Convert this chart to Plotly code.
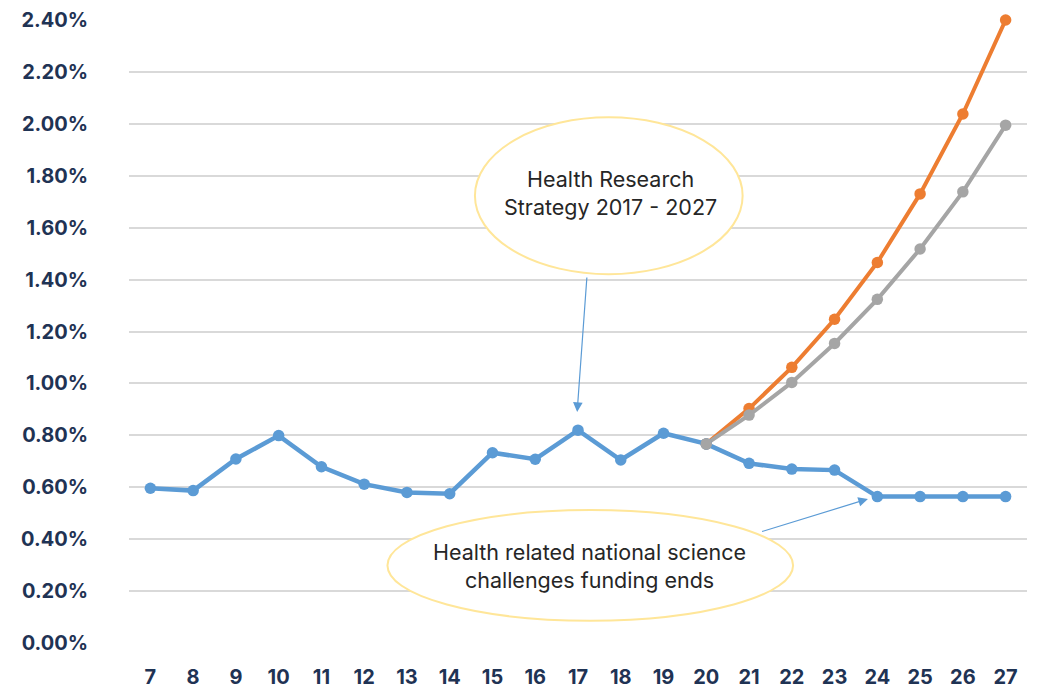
import plotly.graph_objects as go

years = list(range(7, 28))
actual = [0.596, 0.587, 0.709, 0.799, 0.679, 0.612, 0.580, 0.575, 0.733, 0.708,
          0.820, 0.705, 0.808, 0.767, 0.692, 0.670, 0.666, 0.564, 0.564, 0.564, 0.564]
proj_years = list(range(20, 28))
proj_high = [0.767, 0.903, 1.062, 1.247, 1.466, 1.730, 2.038, 2.400]
proj_mid = [0.767, 0.878, 1.004, 1.154, 1.324, 1.518, 1.738, 1.995]
y_ticks = [0.0, 0.2, 0.4, 0.6, 0.8, 1.0, 1.2, 1.4, 1.6, 1.8, 2.0, 2.2, 2.4]
y_labels = [f"{v:.2f}%" for v in y_ticks]

BLUE = "#5B9BD5"
ORANGE = "#ED7D31"
GRAY = "#A5A5A5"
NAVY = "#1F3354"
FONT = "Inter"

fig = go.Figure()
fig.add_trace(go.Scatter(x=proj_years, y=proj_high, mode="lines+markers", cliponaxis=False,
                         line=dict(color=ORANGE, width=4), marker=dict(size=11.5, color=ORANGE)))
fig.add_trace(go.Scatter(x=proj_years, y=proj_mid, mode="lines+markers", cliponaxis=False,
                         line=dict(color=GRAY, width=4), marker=dict(size=11.5, color=GRAY)))
fig.add_trace(go.Scatter(x=years, y=actual, mode="lines+markers", cliponaxis=False,
                         line=dict(color=BLUE, width=4.5), marker=dict(size=11.5, color=BLUE)))
fig.add_trace(go.Scatter(x=[proj_years[0]], y=[proj_mid[0]], mode="markers", cliponaxis=False,
                         marker=dict(size=11.5, color=GRAY)))

fig.add_shape(type="circle", xref="x", yref="y", x0=14.59, x1=20.85, y0=1.421, y1=2.025,
              line=dict(color="#FFE699", width=2), fillcolor="white", layer="above")
fig.add_shape(type="circle", xref="x", yref="y", x0=12.544, x1=22.03, y0=0.0859, y1=0.512,
              line=dict(color="#FFE699", width=2), fillcolor="white", layer="above")

fig.add_annotation(x=17.75, y=1.735, xref="x", yref="y", showarrow=False,
                   text="Health Research<br>Strategy 2017 - 2027",
                   font=dict(family=FONT, size=21.5, color="#262626"), align="center")
fig.add_annotation(x=17.28, y=0.297, xref="x", yref="y", showarrow=False,
                   text="Health related national science<br>challenges funding ends",
                   font=dict(family=FONT, size=21.5, color="#262626"), align="center")

fig.add_annotation(x=16.98, y=0.89, ax=17.21, ay=1.414, xref="x", yref="y",
                   axref="x", ayref="y", text="", showarrow=True, arrowhead=2,
                   arrowsize=1.6, arrowwidth=1.2, arrowcolor=BLUE)
fig.add_annotation(x=23.78, y=0.555, ax=21.27, ay=0.4276, xref="x", yref="y",
                   axref="x", ayref="y", text="", showarrow=True, arrowhead=2,
                   arrowsize=1.6, arrowwidth=1.2, arrowcolor=BLUE)

fig.update_layout(
    width=1050, height=688, showlegend=False,
    paper_bgcolor="white", plot_bgcolor="white",
    margin=dict(l=128.6, r=22.6, t=20, b=45, autoexpand=False),
    font=dict(family=FONT),
)
fig.update_xaxes(range=[6.5, 27.5], tickmode="array", tickvals=years, automargin=False,
                 ticktext=[str(y) for y in years], showgrid=False, zeroline=False,
                 showline=False, ticks="", ticklabelstandoff=20,
                 tickfont=dict(family=FONT, size=20, color=NAVY, weight="bold"))
fig.update_yaxes(range=[0, 2.4], tickmode="array", tickvals=y_ticks, ticktext=y_labels,
                 automargin=False,
                 showgrid=True, gridcolor="#D9D9D9", gridwidth=1.5, zeroline=False,
                 showline=False, ticks="", ticklabelstandoff=40,
                 tickfont=dict(family=FONT, size=20, color=NAVY, weight="bold"))

fig.write_html("out.html", config={"displayModeBar": False},
               post_script="document.body.style.margin='0';document.body.style.overflow='hidden';")
